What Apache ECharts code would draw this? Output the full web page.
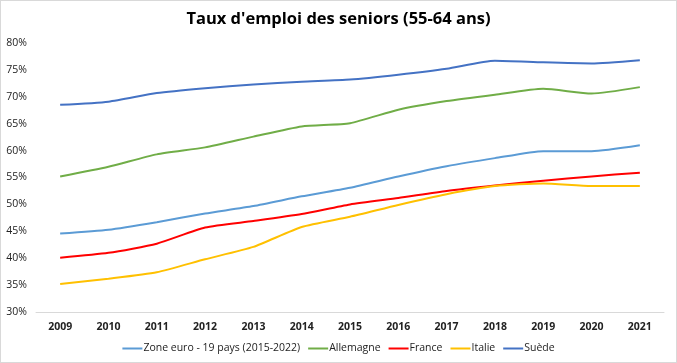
<!DOCTYPE html>
<html><head><meta charset="utf-8">
<script src="https://cdn.jsdelivr.net/npm/echarts@6/dist/echarts.min.js"></script>
<style>html,body{margin:0;padding:0;background:#fff}#c{width:675px;height:361px;border:1px solid #d9d9d9}</style>
</head><body><div id="c"></div>
<script>
const years = ['2009','2010','2011','2012','2013','2014','2015','2016','2017','2018','2019','2020','2021'];
const zoneEuro = [44.6,45.3,46.7,48.3,49.7,51.5,53.1,55.2,57.1,58.6,59.9,59.9,61.0];
const allemagne = [55.2,57.0,59.3,60.6,62.6,64.5,65.1,67.6,69.2,70.4,71.5,70.6,71.8];
const france = [40.1,41.0,42.7,45.7,46.9,48.2,50.0,51.2,52.5,53.5,54.4,55.2,55.9];
const italie = [35.2,36.2,37.4,39.8,42.1,45.8,47.7,49.9,51.9,53.4,53.9,53.4,53.4];
const suede = [68.5,69.1,70.7,71.6,72.3,72.8,73.2,74.1,75.2,76.7,76.4,76.2,76.8];
const yTicks = [30,35,40,45,50,55,60,65,70,75,80];
const names = ['Zone euro - 19 pays (2015-2022)','Allemagne','France','Italie','Suède'];
const colors = ['#5B9BD5','#70AD47','#FF0000','#FFC000','#4472C4'];
const datas = [zoneEuro, allemagne, france, italie, suede];
const font = 'Open Sans, Noto Sans, sans-serif';
const chart = echarts.init(document.getElementById('c'));
chart.setOption({
  animation:false,
  color: colors,
  title:{text:"Taux d'emploi des seniors (55-64 ans)",left:'center',top:5,
    textStyle:{fontFamily:font,fontWeight:'bold',fontSize:16.5,color:'#000'}},
  grid:{left:35,right:12,top:42,bottom:50},
  legend:{bottom:3,left:'center',itemWidth:20,itemHeight:2,itemGap:8,icon:'rect',
    textStyle:{fontFamily:font,fontSize:10.5,fontWeight:500,color:'#222',padding:[0,0,0,-4]},data:names},
  xAxis:{type:'category',data:years,boundaryGap:true,
    axisLine:{lineStyle:{color:'#d9d9d9'}},axisTick:{show:false},
    axisLabel:{fontFamily:font,fontWeight:'bold',fontSize:10.5,color:'#222',margin:10}},
  yAxis:{type:'value',min:yTicks[0],max:yTicks[yTicks.length-1],interval:5,
    axisLine:{show:false},axisTick:{show:false},splitLine:{show:false},
    axisLabel:{fontFamily:font,fontSize:10.5,fontWeight:500,color:'#222',margin:9,formatter:v=>v+'%'}},
  series: datas.map((d,i)=>({name:names[i],type:'line',data:d,smooth:0.2,showSymbol:false,
    lineStyle:{width:2,color:colors[i]},itemStyle:{color:colors[i]}}))
});
</script></body></html>
